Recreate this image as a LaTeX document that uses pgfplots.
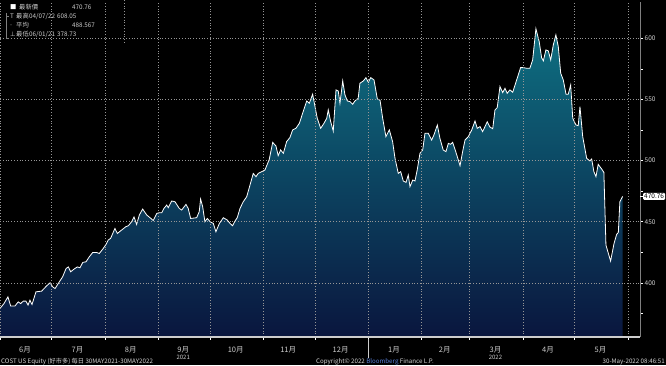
\documentclass[border=0pt]{standalone}
\usepackage{pgfplots}
\pgfplotsset{compat=1.18}
\usepackage{pgfplotstable}
\usepackage{fontspec}
\setmainfont{Noto Sans CJK TC}
\newfontfamily\dejavu{DejaVu Sans}

\definecolor{areatop}{RGB}{14,112,130}
\definecolor{areabot}{RGB}{10,22,62}
\definecolor{lbl}{RGB}{205,205,205}
\definecolor{gridc}{RGB}{150,150,150}
\definecolor{bbg}{RGB}{90,130,220}

\pgfplotstableread{
d v
0 379
2.3 383
4.6 388.5
6.2 381
8.7 381
10.6 384.4
12.0 383
13.5 385
15.1 385
16.3 381.7
17.4 385.8
18.6 382.2
20.9 392.6
24.2 393.2
27.1 397.5
29.1 400
30.6 396.7
32.0 395.3
34.5 400.8
36.4 404.9
38.4 411.7
39.7 413
41.1 409
43.0 411.2
44.9 413
46.5 412.3
48.1 416.7
50.0 417.2
51.9 421.3
53.9 424.8
56.2 424.8
57.7 424
60.0 428.1
61.6 431.4
62.9 435
64.3 436.4
66.8 444.5
68.2 440.4
70.7 443.2
73.2 446
74.6 446.7
76.5 450
77.9 454
79.4 447.8
81.0 455.5
82.9 460.4
85.3 455.5
87.2 453.3
89.1 451
91.1 456.8
92.6 457.4
94.0 457.4
95.3 460.9
96.9 463.7
97.8 461.5
99.8 467
101.7 466.4
104.2 460.9
105.6 459.6
108.1 464.2
109.4 460.9
110.8 452.7
114.3 453.3
115.8 458.2
116.6 468.6
117.8 462.3
119.1 450
120.5 452.7
122.1 450
124.0 448.6
125.5 441.8
127.5 448.6
129.8 453.3
132.1 451.4
133.7 448.6
135.2 446.7
136.6 450.6
137.9 453.3
139.5 460.9
141.4 466.4
143.4 470.5
145.3 480
147.2 489.6
148.8 486.9
150.1 489.6
152.1 491
154.0 492.4
156.5 501
158.5 515
160.4 512
161.7 504.1
163.1 508.8
164.7 506
166.6 515.6
168.5 518.9
170.1 525.2
172.0 526.5
174.0 530.6
175.9 538.8
178.3 548.9
179.8 547
181.7 554.4
183.1 544.3
184.4 534.7
186.4 526.5
188.3 530.6
189.9 534.7
190.8 541.6
192.2 532
193.7 524.3
195.3 558
196.6 557.1
197.6 547
199.2 565.3
200.5 553.9
201.9 548.9
203.4 548.4
205.0 546.2
206.3 548.9
208.2 551.1
209.2 563.4
211.2 565.3
212.7 568
214.1 564.2
215.5 568
217.4 566.1
219.3 550.6
220.9 549.5
222.4 535
224.3 519.7
226.3 525.2
228.2 515.6
229.6 501.9
231.5 489.6
232.9 491
234.4 483.4
236.0 482.2
237.3 488.3
238.3 478.7
239.9 484.2
241.2 483.4
242.5 492.4
244.1 506
245.7 508.8
247.0 522.4
248.9 522.4
250.9 516.9
252.2 521
254.2 529.2
255.7 518.3
257.6 508.8
259.2 507.4
260.6 514.2
261.9 513.4
263.1 515
264.4 509.6
265.8 503.3
267.4 495.9
268.9 507.4
270.3 517
272.2 519.7
274.2 525.2
276.1 532.5
277.4 526.5
279.0 527.9
280.5 523.8
281.9 527.9
283.2 531.9
284.8 527.5
286.4 526.2
287.7 541.6
289.0 543.4
290.6 560.7
292.2 555.7
293.5 559.3
294.8 555.2
296.4 558
298.0 556
300.3 566.1
302.6 576.2
304.1 576.2
306.1 575.7
308.0 575.7
309.6 582.5
311.5 608.05
313.4 597.5
314.8 584.4
315.8 581.7
317.3 590.7
318.7 589.9
320.1 582.5
321.6 594.8
323.1 603
324.5 593.4
325.9 571.6
327.4 566.1
329.0 554.4
330.3 554.4
331.7 562
332.9 534.7
334.8 529.2
336.1 528.7
337.1 544.3
338.7 519.7
341.0 501.9
342.9 499.8
343.9 501.4
345.2 491
346.4 486.9
347.7 497
349.7 493.2
351.0 490.4
352.2 430.9
354.9 417.8
356.9 432.2
358.4 439.6
359.4 441.2
360.3 466.4
361.9 470.76
}\pricedata

\begin{document}
\begin{tikzpicture}[x=1pt,y=1pt]
\fill[black] (0,0) rectangle (666,365);
\begin{axis}[
  at={(0,23)}, anchor=south west,
  width=640pt, height=335pt, scale only axis,
  xmin=0, xmax=372, ymin=355.7, ymax=630,
  axis x line*=bottom, axis y line*=right,
  axis line style={-},
  x axis line style={draw=lbl, line width=1.6pt},
  y axis line style={draw=gray, line width=0.5pt},
  tick align=outside,
  xtick={0,30,61,92,122,153,183,214,245,273,304,334,365},
  xticklabels={,,,,,,,{\textcolor{lbl}{\rule{0.6pt}{19pt}}},,,,,},
  xticklabel style={inner sep=0pt, yshift=1pt},
  xmajorgrids=true,
  extra x ticks={14.5,45,76,106.5,137,167.5,198,229,258.5,288,318.5,349},
  extra x tick labels={6月,7月,8月,{9月\\[-0.5pt]{\fontsize{6}{6}\selectfont 2021}},10月,11月,12月,1月,2月,{3月\\[-0.5pt]{\fontsize{6}{6}\selectfont 2022}},4月,5月},
  extra x tick style={grid=none, major tick length=0pt,
     xticklabel style={inner sep=1pt, yshift=-9pt, align=center, text=lbl, font=\fontsize{7.5}{8}\selectfont}},
  ytick={400,450,500,550,600},
  minor ytick={375,425,475,525,575},
  ymajorgrids=true,
  grid style={gridc, dash pattern=on 0.8pt off 2pt, line width=0.5pt},
  major tick length=3pt, minor tick length=2.5pt,
  tick style={white, line width=0.6pt},
  yticklabel style={font=\fontsize{6.5}{7}\selectfont, text=lbl, inner sep=1.5pt},
  /pgf/number format/assume math mode=true,
  extra y ticks={470.76},
  extra y tick labels={470.76},
  extra y tick style={grid=none, yticklabel style={fill=white, text=black, inner sep=1pt, rounded corners=1pt}},
  axis on top,
  clip=true,
]
\addplot[draw=none, top color=areatop, bottom color=areabot, forget plot] table[x=d,y=v]{\pricedata} \closedcycle;
\addplot[draw=white, line width=0.8pt, mark=none] table[x=d,y=v]{\pricedata};
\end{axis}
% info box
\begin{scope}[every node/.style={inner sep=0pt, anchor=base west, text=lbl, font=\fontsize{6.3}{7}\selectfont}]
\draw[gray, line width=0.4pt] (6,352) -- (6,327) -- (9,327);
\draw[gray, line width=0.4pt] (6,349) -- (9,349);
\node[text=white] at (10,355.5) {■};
\node at (19,355.5) {最新價};
\node at (72,355.5) {470.76};
\node at (10,346.5) {T};
\node at (16,346.5) {最高};
\node at (29,346.5) {04/07/22};
\node at (57,346.5) {608.05};
\node at (10,337) {{\dejavu ·}};
\node at (16,337) {平均};
\node at (72,337) {488.567};
\node at (10,328) {{\dejavu ⊥}};
\node at (16,328) {最低};
\node at (29,328) {06/01/21};
\node at (57,328) {378.73};
\end{scope}
\draw[gridc, dash pattern=on 0.8pt off 2pt, line width=0.4pt] (124,365) -- (124,322);
% footer
\begin{scope}[every node/.style={inner sep=0pt, text=lbl!85, font=\fontsize{6.2}{7}\selectfont}]
\node[anchor=base west] at (1,1.5) {COST US Equity (好市多) 每日 30MAY2021-30MAY2022};
\node[anchor=base] at (375,1.5) {Copyright© 2022 \textcolor{bbg}{Bloomberg} Finance L.P.};
\node[anchor=base east] at (665,1.5) {30-May-2022 08:46:51};
\end{scope}
\pgfresetboundingbox
\path[use as bounding box] (0,0) rectangle (666,365);
\end{tikzpicture}
\end{document}
